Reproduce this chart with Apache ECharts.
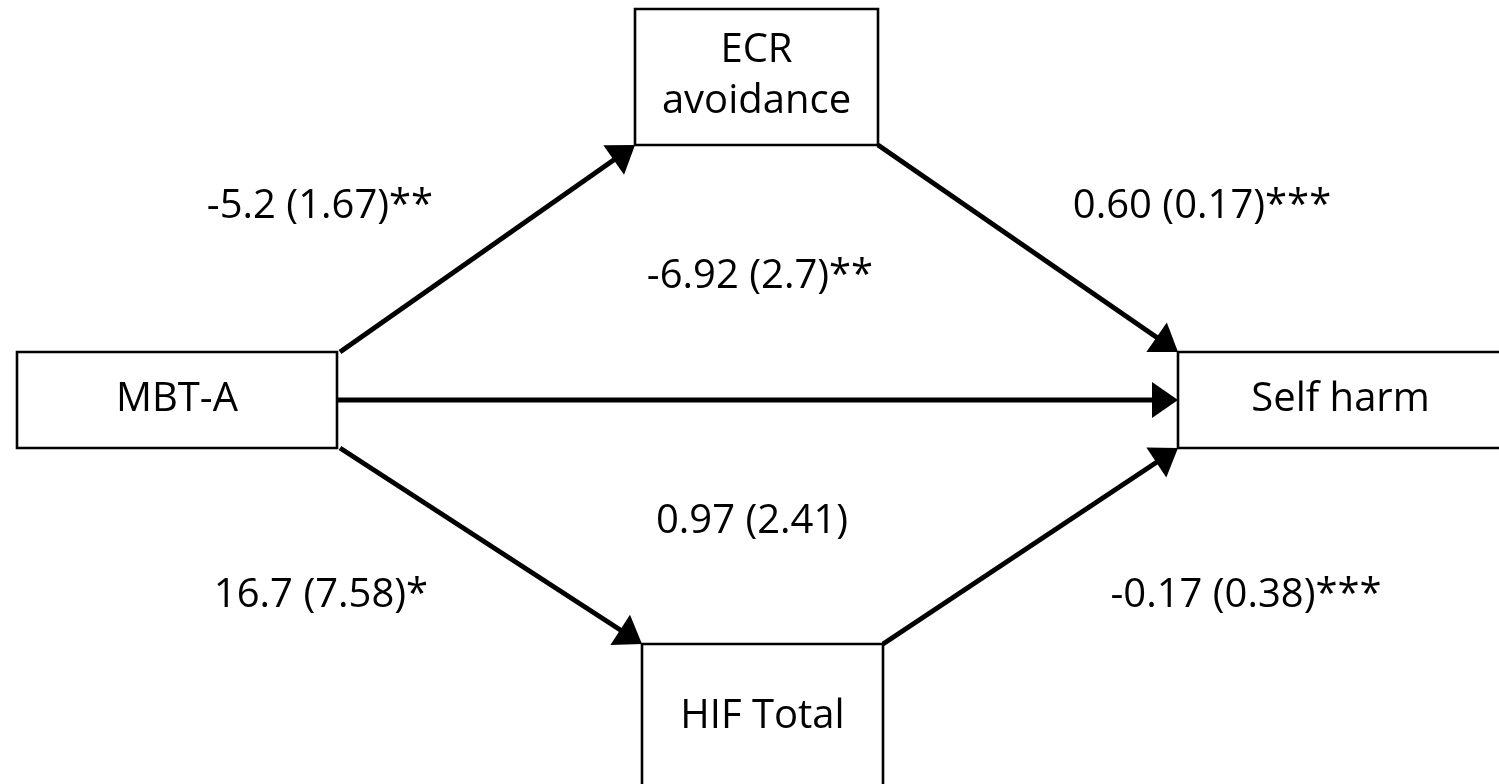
<!DOCTYPE html>
<html>
<head>
<meta charset="utf-8">
<script src="https://cdn.jsdelivr.net/npm/echarts@6/dist/echarts.min.js"></script>
<style>
html,body{margin:0;padding:0;background:#fff;}
#chart{width:1499px;height:784px;}
</style>
</head>
<body>
<div id="chart"></div>
<script>
// ---- data ----
const nodeNames = ['MBT-A', 'ECR\navoidance', 'Self harm', 'HIF Total'];
const pathFrom = [0, 1, 0, 0, 3];
const pathTo   = [1, 2, 2, 3, 2];
const pathLabels = ['-5.2 (1.67)**', '0.60 (0.17)***', '-6.92 (2.7)**', '16.7 (7.58)*', '-0.17 (0.38)***', '0.97 (2.41)'];

// ---- layout (diagram coordinates) ----
const nodeBoxes = [[17, 352, 337, 448], [635, 9, 878, 145], [1178, 352, 1503, 448], [642, 644, 883, 790]];
const nodeTextY = [400, 76, 400, 717];
const pathEnds = [[340, 352, 635, 145], [878, 145, 1178, 352], [337, 400, 1178, 400], [340, 448, 642, 644], [883, 644, 1178, 448]];
const labelPos = [[320, 207], [1202, 207], [760, 277], [321, 596], [1246, 596], [752, 522]];

const FONT = '40px "Open Sans"';

const boxData = nodeBoxes.map((b, i) => b.concat([nodeTextY[i]]));
const arrowData = pathEnds.map((p, i) => p.concat([pathFrom[i], pathTo[i]]));
const labelData = labelPos.map((p, i) => p.slice());

const chart = echarts.init(document.getElementById('chart'), null, {renderer: 'canvas'});
chart.setOption({
  backgroundColor: '#ffffff',
  animation: false,
  grid: {left: 0, right: 0, top: 0, bottom: 0},
  xAxis: {type: 'value', min: 0, max: 1499, show: false},
  yAxis: {type: 'value', min: 0, max: 784, inverse: true, show: false},
  series: [
    {
      type: 'custom',
      data: boxData,
      renderItem: function (params, api) {
        const p0 = api.coord([api.value(0), api.value(1)]);
        const p1 = api.coord([api.value(2), api.value(3)]);
        const ty = api.coord([0, api.value(4)])[1];
        const name = nodeNames[params.dataIndex];
        return {
          type: 'group',
          children: [
            {type: 'rect', shape: {x: p0[0], y: p0[1], width: p1[0] - p0[0], height: p1[1] - p0[1]},
             style: {fill: '#ffffff', stroke: '#000000', lineWidth: 2.6}},
            {type: 'text', x: (p0[0] + p1[0]) / 2, y: ty,
             style: {text: name, font: FONT, fill: '#000', align: 'center', verticalAlign: 'middle', lineHeight: 51}}
          ]
        };
      }
    },
    {
      type: 'custom',
      data: arrowData,
      renderItem: function (params, api) {
        const a = api.coord([api.value(0), api.value(1)]);
        const b = api.coord([api.value(2), api.value(3)]);
        const dx = b[0] - a[0], dy = b[1] - a[1];
        const len = Math.sqrt(dx * dx + dy * dy);
        const ux = dx / len, uy = dy / len;
        const nx = -uy, ny = ux;
        const L = 26, W = 18;
        const bx = b[0] - ux * L, by = b[1] - uy * L;
        return {
          type: 'group',
          children: [
            {type: 'line', shape: {x1: a[0], y1: a[1], x2: bx + ux * 3, y2: by + uy * 3},
             style: {stroke: '#000', lineWidth: 5}},
            {type: 'polygon', shape: {points: [[b[0], b[1]], [bx + nx * W, by + ny * W], [bx - nx * W, by - ny * W]]},
             style: {fill: '#000'}}
          ]
        };
      }
    },
    {
      type: 'custom',
      data: labelData,
      renderItem: function (params, api) {
        const p = api.coord([api.value(0), api.value(1)]);
        return {type: 'text', x: p[0], y: p[1],
          style: {text: pathLabels[params.dataIndex], font: FONT, fill: '#000', align: 'center', verticalAlign: 'middle'}};
      }
    }
  ]
});
</script>
</body>
</html>
